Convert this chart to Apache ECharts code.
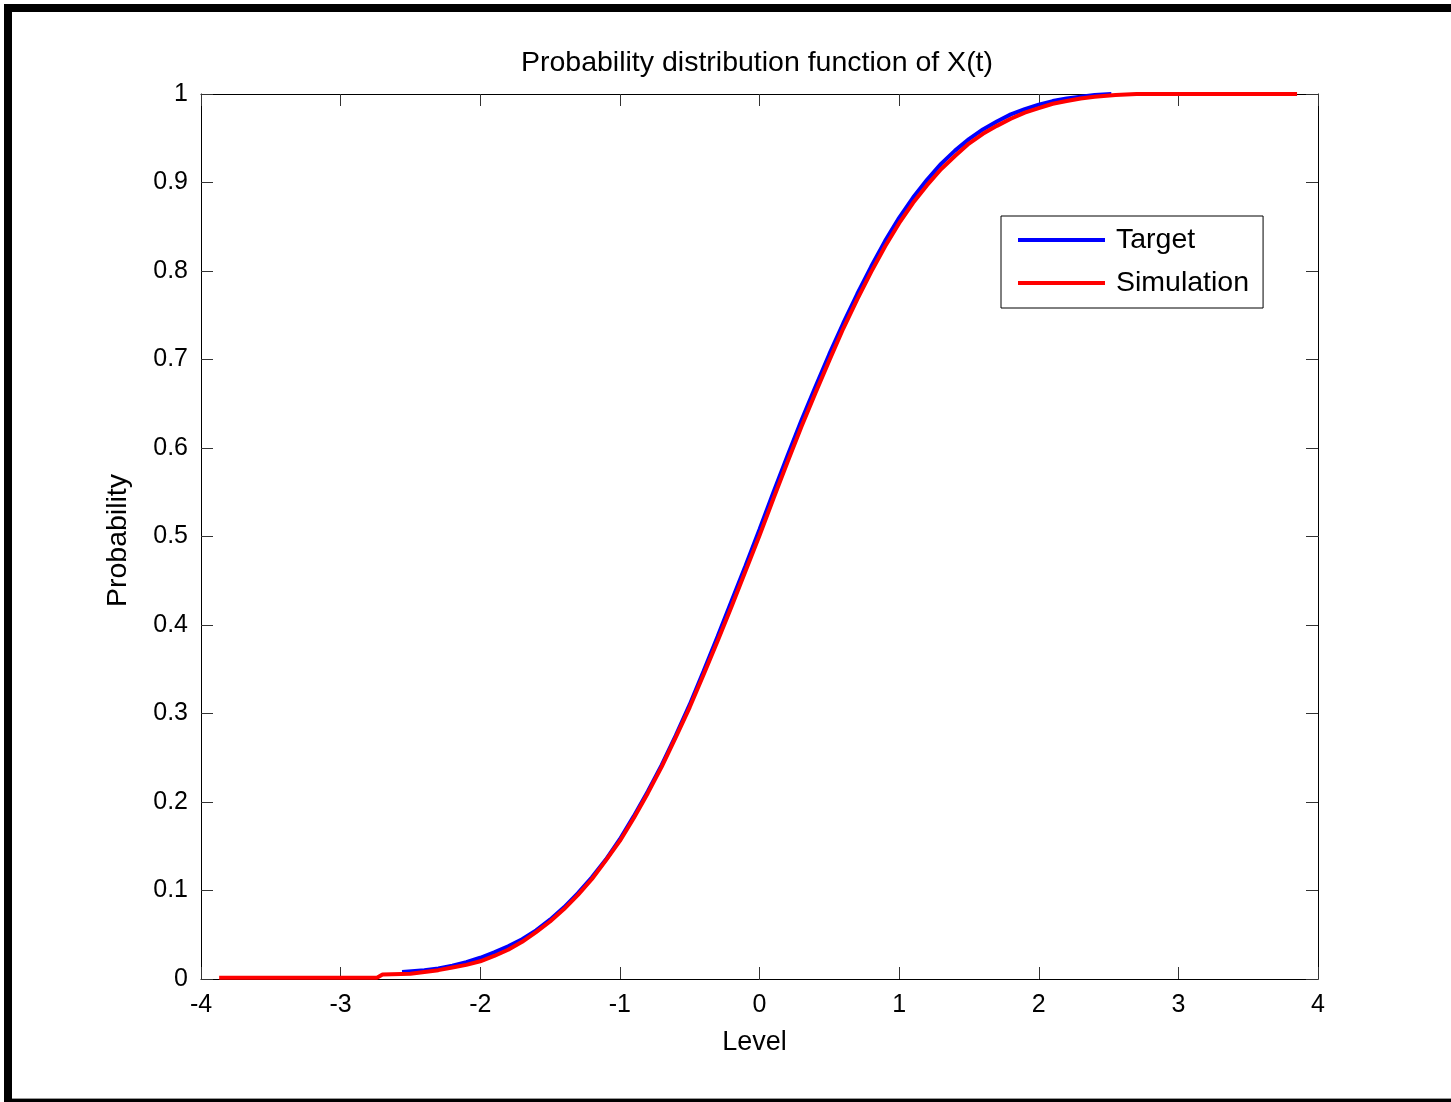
<!DOCTYPE html>
<html>
<head>
<meta charset="utf-8">
<title>Probability distribution function of X(t)</title>
<script src="https://cdn.jsdelivr.net/npm/echarts@6/dist/echarts.min.js"></script>
<style>
  html, body { margin: 0; padding: 0; background: #ffffff; }
  #chart { width: 1451px; height: 1102px; }
</style>
</head>
<body>
<div id="chart"></div>
<script>
// Target distribution: level and cumulative probability
const targetLevels = [-2.56, -2.4, -2.3, -2.2, -2.1, -2.0, -1.9, -1.8, -1.7, -1.6, -1.5, -1.4, -1.3, -1.2, -1.1,
  -1.0, -0.9, -0.8, -0.7, -0.6, -0.5, -0.4, -0.3, -0.2, -0.1, 0.0, 0.1, 0.2, 0.3, 0.4, 0.5, 0.6, 0.7, 0.8, 0.9,
  1.0, 1.1, 1.2, 1.3, 1.4, 1.5, 1.6, 1.7, 1.8, 1.9, 2.0, 2.1, 2.2, 2.3, 2.4, 2.52];
const targetProb = [0.008, 0.010, 0.012, 0.015, 0.019, 0.024, 0.030, 0.037, 0.045, 0.055, 0.067, 0.081, 0.097, 0.115, 0.135,
  0.158, 0.184, 0.212, 0.242, 0.275, 0.310, 0.348, 0.387, 0.427, 0.467, 0.508, 0.550, 0.591, 0.631, 0.669, 0.706, 0.741, 0.774, 0.805, 0.834,
  0.860, 0.883, 0.903, 0.921, 0.936, 0.949, 0.960, 0.969, 0.977, 0.983, 0.988, 0.992, 0.995, 0.997, 0.999, 1.0];

// Simulated distribution: level and cumulative probability
const simLevels = [-3.87, -2.74, -2.70, -2.5, -2.4, -2.3, -2.2, -2.1, -2.0, -1.9, -1.8, -1.7, -1.6, -1.5, -1.4, -1.3, -1.2, -1.1,
  -1.0, -0.9, -0.8, -0.7, -0.6, -0.5, -0.4, -0.3, -0.2, -0.1, 0.0, 0.1, 0.2, 0.3, 0.4, 0.5, 0.6, 0.7, 0.8, 0.9,
  1.0, 1.1, 1.2, 1.3, 1.4, 1.5, 1.6, 1.7, 1.8, 1.9, 2.0, 2.1, 2.2, 2.3, 2.4, 2.55, 2.70, 3.85];
const simProb = [0.0015, 0.0015, 0.005, 0.006, 0.008, 0.010, 0.013, 0.016, 0.020, 0.026, 0.033, 0.042, 0.053, 0.065, 0.079, 0.095, 0.113, 0.134,
  0.156, 0.182, 0.210, 0.240, 0.273, 0.307, 0.344, 0.382, 0.421, 0.461, 0.501, 0.543, 0.584, 0.624, 0.662, 0.699, 0.735, 0.768, 0.799, 0.828,
  0.854, 0.877, 0.897, 0.915, 0.930, 0.944, 0.955, 0.964, 0.972, 0.979, 0.984, 0.989, 0.992, 0.995, 0.997, 0.999, 1.0, 1.0];

// Axis tick labels
const xTickValues = [-4, -3, -2, -1, 0, 1, 2, 3, 4];
const xTickLabels = ['-4', '-3', '-2', '-1', '0', '1', '2', '3', '4'];
const yTickValues = [0, 0.1, 0.2, 0.3, 0.4, 0.5, 0.6, 0.7, 0.8, 0.9, 1];
const yTickLabels = ['0', '0.1', '0.2', '0.3', '0.4', '0.5', '0.6', '0.7', '0.8', '0.9', '1'];

const seriesNames = ['Target', 'Simulation'];
const titleText = 'Probability distribution function of X(t)';
const xAxisTitle = 'Level';
const yAxisTitle = 'Probability';

function pairs(xs, ys) {
  return xs.map((x, i) => [x, ys[i]]);
}
function lookup(values, labels) {
  return function (v) {
    for (let i = 0; i < values.length; i++) {
      if (Math.abs(values[i] - v) < 1e-6) return labels[i];
    }
    return '';
  };
}

const FONT = '"Liberation Sans", Arial, Helvetica, sans-serif';
const tickLine = { show: true, inside: true, length: 12, lineStyle: { color: '#333', width: 1 } };
const frameLine = { show: true, onZero: false, lineStyle: { color: '#000', width: 1 } };

const chart = echarts.init(document.getElementById('chart'), null, { renderer: 'canvas' });

chart.setOption({
  backgroundColor: '#ffffff',
  animation: false,
  title: {
    text: titleText,
    left: 752,
    top: 44,
    textAlign: 'center',
    textStyle: { fontFamily: FONT, fontSize: 28.5, fontWeight: 'normal', color: '#000' }
  },
  grid: { left: 201, top: 94, right: 133, bottom: 123, containLabel: false },
  legend: {
    data: seriesNames,
    orient: 'vertical',
    left: 1001,
    top: 216,
    icon: 'rect',
    itemWidth: 87,
    itemHeight: 4,
    itemGap: 3,
    padding: [4, 14, 5, 17],
    borderColor: '#000',
    borderWidth: 1,
    backgroundColor: '#fff',
    textStyle: { fontFamily: FONT, fontSize: 28.5, color: '#000', lineHeight: 28, padding: [12, 0, 0, 6] }
  },
  xAxis: [
    {
      type: 'value', min: -4, max: 4, interval: 1, position: 'bottom',
      name: xAxisTitle, nameLocation: 'middle', nameGap: 50,
      nameTextStyle: { fontFamily: FONT, fontSize: 27, color: '#000', padding: [0, 10, 0, 0] },
      axisLine: frameLine, axisTick: tickLine, splitLine: { show: false },
      axisLabel: { fontFamily: FONT, fontSize: 25, color: '#000', margin: 14, formatter: lookup(xTickValues, xTickLabels) }
    },
    {
      type: 'value', min: -4, max: 4, interval: 1, position: 'top',
      axisLine: frameLine, axisTick: tickLine, splitLine: { show: false }, axisLabel: { show: false }
    }
  ],
  yAxis: [
    {
      type: 'value', min: 0, max: 1, interval: 0.1, position: 'left',
      name: yAxisTitle, nameLocation: 'middle', nameGap: 68, nameRotate: 90,
      nameTextStyle: { fontFamily: FONT, fontSize: 28.5, color: '#000', padding: [0, 8, 0, 0] },
      axisLine: frameLine, axisTick: tickLine, splitLine: { show: false },
      axisLabel: { fontFamily: FONT, fontSize: 25, color: '#000', margin: 13, formatter: lookup(yTickValues, yTickLabels) }
    },
    {
      type: 'value', min: 0, max: 1, interval: 0.1, position: 'right',
      axisLine: frameLine, axisTick: tickLine, splitLine: { show: false }, axisLabel: { show: false }
    }
  ],
  series: [
    {
      name: seriesNames[0], type: 'line', xAxisIndex: 0, yAxisIndex: 0,
      data: pairs(targetLevels, targetProb),
      showSymbol: false, symbol: 'none',
      lineStyle: { color: '#0000ff', width: 4 }, itemStyle: { color: '#0000ff' }, z: 2
    },
    {
      name: seriesNames[1], type: 'line', xAxisIndex: 0, yAxisIndex: 0,
      data: pairs(simLevels, simProb),
      showSymbol: false, symbol: 'none',
      lineStyle: { color: '#ff0000', width: 4 }, itemStyle: { color: '#ff0000' }, z: 3
    }
  ],
  graphic: [
    // outer frame of the figure
    { type: 'rect', silent: true, shape: { x: 4, y: 4, width: 1447, height: 8 }, style: { fill: '#000' } },
    { type: 'rect', silent: true, shape: { x: 4, y: 4, width: 8, height: 1098 }, style: { fill: '#000' } },
    { type: 'rect', silent: true, shape: { x: 4, y: 1099, width: 1447, height: 3 }, style: { fill: '#000' } },
    { type: 'rect', silent: true, shape: { x: 12, y: 1098, width: 1439, height: 1 }, style: { fill: '#999' } }
  ]
});
</script>
</body>
</html>
